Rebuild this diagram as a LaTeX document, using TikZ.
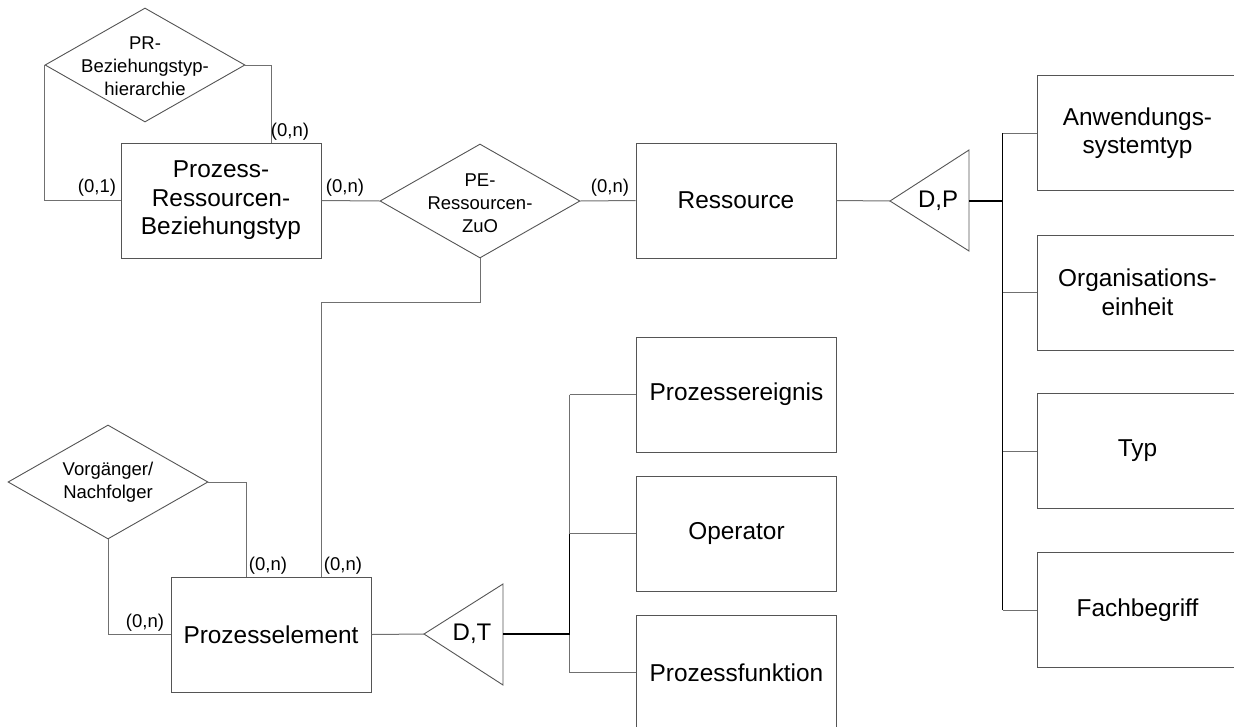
\documentclass[tikz,border=0pt]{standalone}
\usepackage{fontspec}
\setmainfont{Liberation Sans}
\usetikzlibrary{shapes.geometric,calc}
\definecolor{linec}{RGB}{112,112,112}
\definecolor{boxc}{RGB}{85,85,85}
\tikzset{
  ent/.style={draw=boxc,line width=1pt,rectangle,minimum width=200pt,minimum height=115pt,inner sep=0pt,align=center,font=\fontsize{24.4}{28.5}\selectfont},
  rel/.style={draw=boxc,line width=0.9pt,diamond,minimum width=200pt,minimum height=114pt,inner sep=0pt},
  reltext/.style={align=center,inner sep=0pt,font=\fontsize{18.5}{23}\selectfont},
  card/.style={inner sep=0pt,font=\fontsize{18.5}{22}\selectfont},
  gentext/.style={inner sep=0pt,font=\fontsize{24}{28}\selectfont},
  conn/.style={draw=linec,line width=1pt},
  bus/.style={draw=black,line width=1.2pt},
  tri/.style={draw=boxc,line width=0.9pt},
}
\begin{document}
\begin{tikzpicture}[x=1pt,y=-1pt]
\useasboundingbox (0,0) rectangle (1234,726);
\clip (0,0) rectangle (1234,726);
\fill[white] (0,0) rectangle (1234,726);

% entities
\node[ent] (prb) at (221,200.5) {Prozess-\\Ressourcen-\\Beziehungstyp};
\node[ent] (res) at (736,200.5) {Ressource};
\node[ent] (pel) at (271,634.5) {Prozesselement};
\node[ent] (per) at (736.5,394.5) {Prozessereignis};
\node[ent] (op) at (736.5,533.5) {Operator};
\node[ent] (pf) at (736.5,672.5) {Prozessfunktion};
\node[ent] (anw) at (1137.5,133) {Anwendungs-\\systemtyp};
\node[ent] (org) at (1137.5,292.5) {Organisations-\\einheit};
\node[ent] (typ) at (1137.5,451) {Typ};
\node[ent] (fach) at (1137.5,610) {Fachbegriff};

% relationships
\node[rel] (prd) at (145,65) {};
\node[reltext] (prdt) at (145,66) {PR-\\Beziehungstyp-\\hierarchie};
\node[rel] (ped) at (480,201) {};
\node[reltext] (pedt) at (480,203) {PE-\\Ressourcen-\\ZuO};
\node[rel] (vn) at (108,482) {};
\node[reltext] (vnt) at (108,482) {Vorgänger/\\Nachfolger};

% generalisation triangles
\coordinate (dpL) at (890,201);
\coordinate (dpR) at (969,201);
\draw[tri] (dpL) -- (969,150) -- (969,251) -- cycle;
\node[gentext] (dpt) at (938,201) {D,P};
\coordinate (dtL) at (424,634);
\coordinate (dtR) at (503,634);
\draw[tri] (dtL) -- (503,584) -- (503,685) -- cycle;
\node[gentext] (dtt) at (472,634) {D,T};

% connectors top
\draw[conn] (prd.east) -| ([xshift=50pt]prb.north);
\draw[conn] (prd.west) |- (prb.west);
\draw[conn] (prb.east) -- (ped.west);
\draw[conn] (ped.east) -- (res.west);
\draw[conn] (res.east) -- (dpL);
\coordinate (dpbus) at ([xshift=-34.5pt]anw.west);
\draw[bus] (dpR) -- (dpR -| dpbus);
\draw[bus] (dpbus) -- ([xshift=-34.5pt]fach.west);
\draw[conn] (dpbus) -- (anw.west);
\draw[conn] ([xshift=-34.5pt]org.west) -- (org.west);
\draw[conn] ([xshift=-34.5pt]typ.west) -- (typ.west);
\draw[conn] ([xshift=-34.5pt]fach.west) -- (fach.west);

% connectors bottom
\draw[conn] (ped.south) -- ++(0,44) -| ([xshift=50pt]pel.north);
\draw[conn] (vn.east) -| ([xshift=-25pt]pel.north);
\draw[conn] (vn.south) |- (pel.west);
\draw[conn] (pel.east) -- (dtL);
\coordinate (dtbus) at ([xshift=-66.5pt]op.west);
\draw[conn] ([xshift=-66.5pt]per.west) -- ([xshift=-66.5pt]pf.west);
\draw[bus] (dtR) -- (dtR -| dtbus) -- (dtbus);
\draw[conn] ([xshift=-66.5pt]per.west) -- (per.west);
\draw[conn] (dtbus) -- (op.west);
\draw[conn] ([xshift=-66.5pt]pf.west) -- (pf.west);

% cardinalities
\node[card] (c1) at (290,132) {(0,n)};
\node[card] (c2) at (97,188) {(0,1)};
\node[card] (c3) at (345,188) {(0,n)};
\node[card] (c4) at (610,188) {(0,n)};
\node[card] (c5) at (268,566) {(0,n)};
\node[card] (c6) at (343,566) {(0,n)};
\node[card] (c7) at (145,623) {(0,n)};
\end{tikzpicture}
\end{document}
